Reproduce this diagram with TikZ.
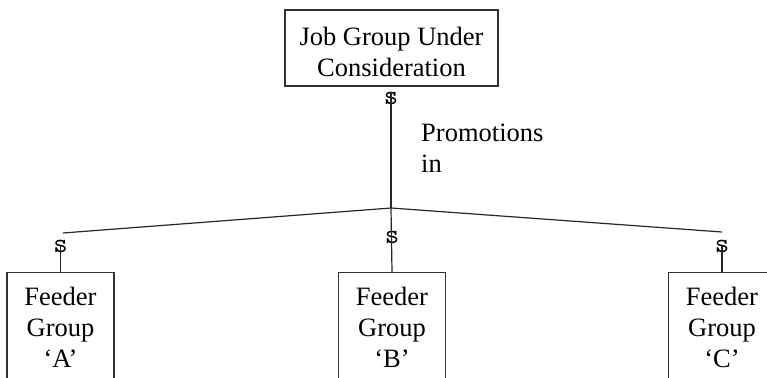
\documentclass[tikz,border=0pt]{standalone}
\usepackage{fontspec}
\setmainfont{Liberation Serif}
\usetikzlibrary{positioning}

\begin{document}
\begin{tikzpicture}[x=1pt, y=-1pt,
        font=\fontsize{26.5}{31}\selectfont,
        box/.style={draw=black!80, line width=1.2pt, align=center, inner sep=0pt},
        crow/.style={font=\ttfamily\fontsize{28}{28}\selectfont, inner sep=0pt},
        link/.style={line width=1.2pt, black!85}]
        \useasboundingbox (0,0) rectangle (767,377);
        \clip (0,0) rectangle (767,377);

        % job group and feeder groups
        \node[box, minimum width=213, minimum height=76] (job) at (391.5,48)
            {\rule{0pt}{27pt}Job Group Under\\Consideration};
        \node[box, minimum width=107, minimum height=110, anchor=north] (fa) at (60.5,272)
            {Feeder\\Group\\`A'};
        \node[box, minimum width=107, minimum height=110, anchor=north] (fb) at (392,272)
            {Feeder\\Group\\`B'};
        \node[box, minimum width=107, minimum height=110, anchor=north] (fc) at (722,272)
            {Feeder\\Group\\`C'};

        % many-side marks
        \node[crow] (stop) at (391,98) {s};
        \node[crow] (sa) at (60.5,246) {s};
        \node[crow] (sb) at (392,237) {s};
        \node[crow] (sc) at (722,246) {s};

        \coordinate (hub) at (391,208);
        \coordinate (enda) at (63,233);
        \coordinate (endc) at (722,232);

        \draw[link] (stop.north) -- (hub);
        \draw[link] (hub) -- (enda);
        \draw[link] (hub) -- (endc);
        \draw[link] (hub) -- (fb.north);
        \draw[link] (sa.center) -- (fa.north);
        \draw[link] (sc.center) -- (fc.north);

        \node[anchor=north west, align=left, inner sep=0pt] (promo) at (421,124)
            {Promotions\\in};
    \end{tikzpicture}
\end{document}
